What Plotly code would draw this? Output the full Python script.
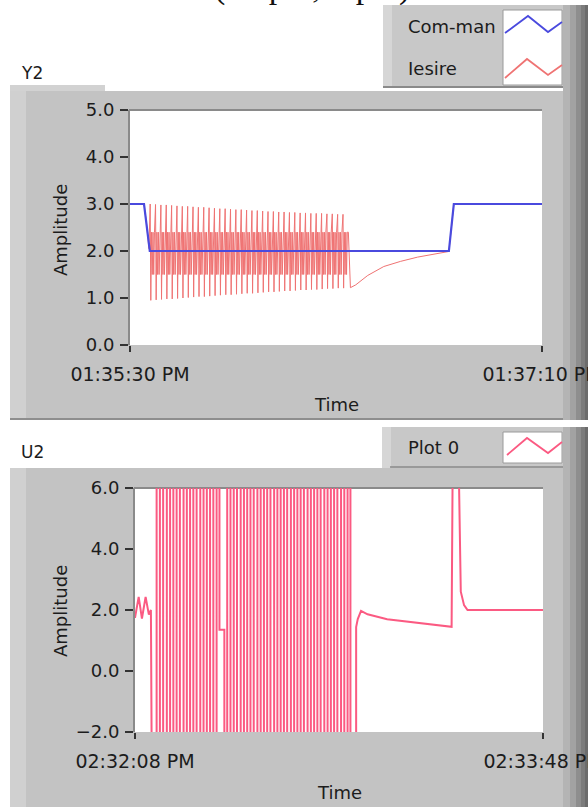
import pandas as pd
import plotly.graph_objects as go

W, H = 588, 807


def px(x):
    return x / W


def py(y):
    return 1 - y / H


# ---------------- data ----------------
y2_t0 = pd.Timestamp("2024-01-01 13:35:30")   # 01:35:30 PM
u2_t0 = pd.Timestamp("2024-01-01 14:32:08")   # 02:32:08 PM
window_s = 100

# --- Y2 chart: Com-man (command) ---
comman_t = [0, 3.4, 4.8, 77.4, 78.6, 100]
comman_v = [3.0, 3.0, 2.0, 2.0, 3.0, 3.0]

# --- Y2 chart: Iesire (output) ---
iesire_pre_t = [0, 3.4, 4.0, 4.6]
iesire_pre_v = [3.0, 3.0, 2.6, 2.05]
iesire_spike_t = [4.9, 6.2, 7.5, 8.8, 10.1, 11.4, 12.7, 14.0, 15.3, 16.6,
                  17.9, 19.2, 20.5, 21.8, 23.1, 24.4, 25.7, 27.0, 28.3, 29.6,
                  30.9, 32.2, 33.5, 34.8, 36.1, 37.4, 38.7, 40.0, 41.3, 42.6,
                  43.9, 45.2, 46.5, 47.8, 49.1, 50.4, 51.7]
iesire_spike_hi = [3.0, 2.99, 2.98, 2.98, 2.97, 2.96, 2.95, 2.95, 2.94, 2.93,
                   2.93, 2.92, 2.91, 2.9, 2.9, 2.89, 2.88, 2.88, 2.87, 2.86,
                   2.86, 2.85, 2.84, 2.84, 2.83, 2.83, 2.82, 2.82, 2.81, 2.81,
                   2.8, 2.8, 2.8, 2.79, 2.79, 2.78, 2.78]
iesire_spike_lo = [0.95, 0.96, 0.97, 0.98, 0.98, 0.99, 1.0, 1.01, 1.02, 1.03,
                   1.03, 1.04, 1.05, 1.06, 1.07, 1.07, 1.08, 1.09, 1.1, 1.1,
                   1.11, 1.12, 1.13, 1.13, 1.14, 1.15, 1.15, 1.16, 1.17, 1.17,
                   1.18, 1.18, 1.19, 1.2, 1.2, 1.21, 1.21]
iesire_cycle_offsets = [0.0, 0.15, 0.32, 0.5, 0.68, 0.86, 1.04]
iesire_cycle_levels = ["hi", "lo", 2.4, 1.5, 2.4, 1.5, 2.4]
iesire_post_t = [53.0, 53.5, 54.8, 57.7, 61.6, 65.7, 69.8, 73.7, 77.4, 78.6, 100]
iesire_post_v = [2.4, 1.22, 1.28, 1.48, 1.67, 1.78, 1.87, 1.93, 1.99, 3.0, 3.0]

# --- U2 chart: Plot 0 (control signal) ---
u2_sat_hi = 7.0    # saturated above the visible range
u2_sat_lo = -3.0   # saturated below the visible range
u2_pre_t = [0, 0.9, 1.7, 2.6, 3.4, 3.9, 4.1]
u2_pre_v = [1.74, 2.43, 1.72, 2.43, 1.85, 2.0, u2_sat_lo]
u2_band1_t = [5.3, 6.1, 6.9, 7.8, 8.6, 9.4, 10.2, 11.0, 11.9, 12.7, 13.5,
              14.3, 15.1, 16.0, 16.8, 17.6, 18.4, 19.2, 20.0]
u2_gap_t = [20.7, 20.7, 21.9, 21.9]
u2_gap_v = [u2_sat_hi, 1.35, 1.35, u2_sat_lo]
u2_band2_t = [22.6, 23.4, 24.2, 25.0, 25.9, 26.7, 27.5, 28.3, 29.1, 30.0,
              30.8, 31.6, 32.4, 33.2, 34.1, 34.9, 35.7, 36.5, 37.3, 38.2,
              39.0, 39.8, 40.6, 41.4, 42.3, 43.1, 43.9, 44.7, 45.5, 46.4,
              47.2, 48.0, 48.8, 49.6, 50.5, 51.3, 52.1, 52.8]
u2_post_t = [54.2, 54.2, 54.6, 55.4, 57.0, 61.8, 66.8, 73.3, 77.6, 77.9,
             79.0, 79.4, 79.85, 80.65, 81.5, 100]
u2_post_v = [u2_sat_lo, 1.44, 1.7, 1.97, 1.86, 1.70, 1.62, 1.51, 1.45, 7.5,
             9.0, 6.3, 2.6, 2.16, 2.0, 2.0]

y2_ticks = [0.0, 1.0, 2.0, 3.0, 4.0, 5.0]
u2_ticks = [-2.0, 0.0, 2.0, 4.0, 6.0]


# ---------------- build series ----------------
def to_time(t0, secs):
    return [t0 + pd.Timedelta(seconds=s) for s in secs]


ies_t = list(iesire_pre_t)
ies_v = list(iesire_pre_v)
for ts, hi, lo in zip(iesire_spike_t, iesire_spike_hi, iesire_spike_lo):
    for off, lvl in zip(iesire_cycle_offsets, iesire_cycle_levels):
        ies_t.append(ts + off)
        ies_v.append(hi if lvl == "hi" else (lo if lvl == "lo" else lvl))
ies_t += iesire_post_t
ies_v += iesire_post_v

u2_t = list(u2_pre_t)
u2_v = list(u2_pre_v)


def add_transitions(times, start_level):
    level = start_level
    for t in times:
        new = u2_sat_hi if level == u2_sat_lo else u2_sat_lo
        u2_t.extend([t, t])
        u2_v.extend([level, new])
        level = new


add_transitions(u2_band1_t, u2_sat_lo)
u2_t += u2_gap_t
u2_v += u2_gap_v
add_transitions(u2_band2_t, u2_sat_lo)
u2_t += u2_post_t
u2_v += u2_post_v

# ---------------- figure ----------------
FONT = "DejaVu Sans"
TXT = "#1c1c1c"
PANEL = "#c3c3c3"
BLUE = "#4a4ade"
SALMON = "#ef7373"
PINK = "#fb5a82"

fig = go.Figure()
fig.add_trace(go.Scatter(x=to_time(y2_t0, ies_t), y=ies_v, mode="lines",
                         line=dict(color=SALMON, width=1), name="Iesire",
                         xaxis="x", yaxis="y", showlegend=False))
fig.add_trace(go.Scatter(x=to_time(y2_t0, comman_t), y=comman_v, mode="lines",
                         line=dict(color=BLUE, width=2.2), name="Com-man",
                         xaxis="x", yaxis="y", showlegend=False))
fig.add_trace(go.Scatter(x=to_time(u2_t0, u2_t), y=u2_v, mode="lines",
                         line=dict(color=PINK, width=2), name="Plot 0",
                         xaxis="x2", yaxis="y2", showlegend=False))

top_dom_x = [px(130), px(542)]
top_dom_y = [py(345), py(110)]
bot_dom_x = [px(135), px(543)]
bot_dom_y = [py(732), py(488)]

axis_font = dict(family=FONT, size=18, color=TXT)


def xaxis_cfg(t0, dom_x, anchor):
    t1 = t0 + pd.Timedelta(seconds=window_s)
    return dict(domain=dom_x, anchor=anchor, type="date", range=[t0, t1],
                tickvals=[t0, t1], tickformat="%I:%M:%S %p",
                ticks="outside", ticklen=6, tickwidth=2, tickcolor="#333333",
                tickfont=dict(family=FONT, size=19, color=TXT),
                ticklabelstandoff=6, ticklabeloverflow="allow",
                showgrid=False, zeroline=False, showline=False,
                automargin=False, fixedrange=True)


def yaxis_cfg(rng, ticks, dom_y, anchor):
    return dict(domain=dom_y, anchor=anchor, range=rng, tickvals=ticks,
                tickformat=".1f", ticks="outside", ticklen=8, tickwidth=2,
                tickcolor="#333333", tickfont=axis_font,
                ticklabelstandoff=2, automargin=False,
                showgrid=False, zeroline=False, showline=True,
                linecolor="#8a8a8a", linewidth=2, fixedrange=True)


shapes = []


def rect(x0, y0, x1, y1, fill, line=None, lw=0):
    shapes.append(dict(type="rect", xref="paper", yref="paper",
                       x0=px(x0), x1=px(x1), y0=py(y1), y1=py(y0),
                       fillcolor=fill, layer="below",
                       line=dict(width=lw, color=line or fill)))


def seg(x0, y0, x1, y1, color, w):
    shapes.append(dict(type="line", xref="paper", yref="paper",
                       x0=px(x0), x1=px(x1), y0=py(y0), y1=py(y1),
                       layer="below", line=dict(color=color, width=w)))


def zigzag(pts, color):
    path = "M " + " L ".join(f"{px(a):.5f},{py(b):.5f}" for a, b in pts)
    shapes.append(dict(type="path", xref="paper", yref="paper", path=path,
                       layer="above", line=dict(color=color, width=1.8)))


# top legend box
rect(383, 5, 588, 88, "#c8c8c8")
rect(383, 5, 392, 88, "#d6d6d6")
seg(383, 87, 566, 87, "#8a8a8a", 2)
rect(503, 10, 562, 85, "#ffffff", "#9a9a9a", 1)
# Y2 tab
rect(10, 85, 105, 91, "#d2d2d2")
# top panel
rect(10, 91, 588, 420, PANEL)
rect(10, 91, 26, 420, "#d0d0d0")
seg(10, 419, 588, 419, "#8e8e8e", 2)
# Plot 0 legend box
rect(382, 427, 588, 468, "#c8c8c8")
rect(382, 427, 391, 468, "#d6d6d6")
seg(390, 467, 566, 467, "#8a8a8a", 1.5)
rect(503, 432, 562, 463, "#ffffff", "#9a9a9a", 1)
# bottom panel
rect(10, 468, 588, 807, PANEL)
rect(10, 468, 26, 807, "#d0d0d0")
# right dark edge gradient
for (xa, xb, c) in [(563, 570, "#b4b4b4"), (570, 576, "#a2a2a2"),
                    (576, 581, "#8e8e8e"), (581, 585, "#7c7c7c"),
                    (585, 588, "#6c6c6c")]:
    rect(xa, 5, xb, 420, c)
    rect(xa, 427, xb, 807, c)
# plot areas
rect(130, 110, 542, 345, "#ffffff")
rect(135, 488, 543, 732, "#ffffff")
seg(129, 110, 542, 110, "#8a8a8a", 2)
seg(134, 488, 543, 488, "#8a8a8a", 2)

# legend swatches
zigzag([(505, 33), (528, 16), (548, 32), (562, 22)], BLUE)
zigzag([(505, 78), (527, 59), (548, 75), (562, 65)], SALMON)
zigzag([(507, 455), (527, 438), (548, 453), (562, 442)], PINK)

annotations = []


def label(text, x, y, size=18, anchor="left", angle=0, family=FONT, color=TXT):
    annotations.append(dict(text=text, xref="paper", yref="paper",
                            x=px(x), y=py(y), xanchor=anchor, yanchor="middle",
                            showarrow=False, textangle=angle,
                            font=dict(family=family, size=size, color=color)))


label("(output, input)", 212, -13, size=34, family="Liberation Serif", color="#111111")
label("Com-man", 406, 27)
label("Iesire", 406, 68)
label("Y2", 19, 73, size=17)
label("U2", 19, 452, size=17)
label("Plot 0", 406, 447)
label("Amplitude", 60, 230, anchor="center", angle=-90)
label("Amplitude", 60, 611, anchor="center", angle=-90)
label("Time", 336, 404, anchor="center")
label("Time", 339, 792, anchor="center")

fig.update_layout(
    width=W, height=H,
    margin=dict(l=0, r=0, t=0, b=0, pad=0, autoexpand=False),
    paper_bgcolor="#ffffff", plot_bgcolor="#ffffff",
    xaxis=xaxis_cfg(y2_t0, top_dom_x, "y"),
    yaxis=yaxis_cfg([0, 5], y2_ticks, top_dom_y, "x"),
    xaxis2=xaxis_cfg(u2_t0, bot_dom_x, "y2"),
    yaxis2=yaxis_cfg([-2, 6], u2_ticks, bot_dom_y, "x2"),
    shapes=shapes,
    annotations=annotations,
    showlegend=False,
)

fig.write_html("out.html")
